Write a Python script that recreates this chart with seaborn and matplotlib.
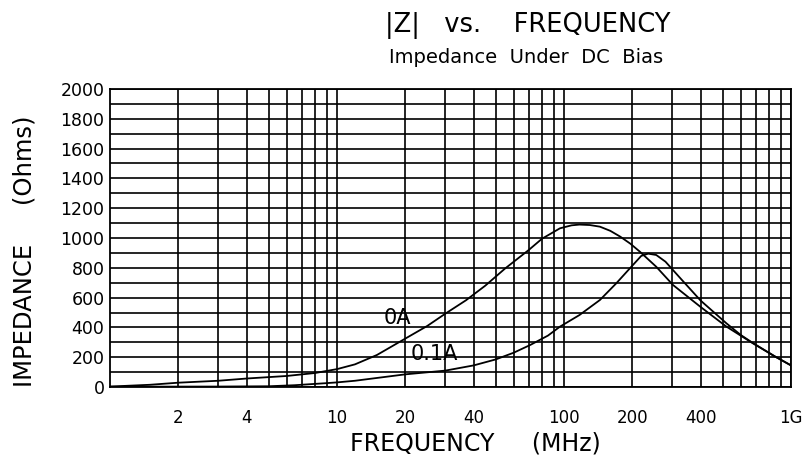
import numpy as np
import pandas as pd
import seaborn as sns
import matplotlib
matplotlib.use('Agg')
import matplotlib.pyplot as plt
from matplotlib.ticker import FixedLocator, MultipleLocator, NullFormatter

# Values (frequency in MHz, impedance in Ohms)
freq_0a = [1.0, 1.5, 2.0, 3.0, 4.0, 6.0, 8.0, 10, 12, 15, 20, 25, 30, 37, 45, 55,
           70, 80, 96, 108, 117, 130, 144, 160, 177, 196, 216, 255, 302, 400, 520,
           680, 850, 1000]
z_0a = [3, 15, 29, 42, 57, 74, 94, 120, 152, 215, 325, 410, 492, 582, 680, 795,
        920, 995, 1065, 1085, 1090, 1087, 1076, 1048, 1009, 962, 908, 807, 685, 537,
        405, 293, 205, 145]

freq_01a = [1.0, 3.0, 5.0, 6.5, 8.8, 10, 12, 20, 30, 40, 50, 60, 71, 85, 96, 117,
            144, 170, 195, 219, 235, 255, 280, 326, 400, 520, 600, 680, 850, 1000]
z_01a = [2, 3, 5, 12, 25, 31, 42, 85, 110, 145, 185, 230, 282, 345, 405, 483,
         584, 696, 796, 880, 895, 886, 841, 729, 580, 427, 350, 295, 205, 145]

x_ticks = [2, 4, 10, 20, 40, 100, 200, 400, 1000]
x_labels = ['2', '4', '10', '20', '40', '100', '200', '400', '1G']

df_0a = pd.DataFrame({'freq': freq_0a, 'z': z_0a})
df_01a = pd.DataFrame({'freq': freq_01a, 'z': z_01a})

sns.set_style('white')
plt.rcParams['font.family'] = ['DejaVu Sans']
plt.rcParams.update({'text.color': 'black', 'axes.labelcolor': 'black',
                     'xtick.color': 'black', 'ytick.color': 'black'})

fig = plt.figure(figsize=(8.04, 4.58), dpi=100)
ax = fig.add_axes([0.1368, 0.155, 0.847, 0.6507])

sns.lineplot(data=df_0a, x='freq', y='z', color='black', linewidth=1.3, ax=ax)
sns.lineplot(data=df_01a, x='freq', y='z', color='black', linewidth=1.3, ax=ax)

ax.set_xscale('log')
ax.set_xlim(1, 1000)
ax.set_ylim(0, 2000)

# grid: every 100 Ohms, every 1..9 step per decade
ax.yaxis.set_major_locator(MultipleLocator(200))
ax.yaxis.set_minor_locator(MultipleLocator(100))
ax.xaxis.set_major_locator(FixedLocator(x_ticks))
minor_x = [m * 10 ** d for d in range(3) for m in range(2, 10)] + [10, 100]
minor_x = [v for v in minor_x if v not in x_ticks]
ax.xaxis.set_minor_locator(FixedLocator(minor_x))
ax.xaxis.set_minor_formatter(NullFormatter())
ax.set_xticklabels(x_labels)

ax.grid(which='both', color='black', linewidth=1.2)
ax.set_axisbelow(True)
ax.tick_params(which='both', length=0)
ax.tick_params(axis='x', pad=16, labelsize=12)
ax.tick_params(axis='y', pad=4, labelsize=12.5)
for s in ax.spines.values():
    s.set_color('black')
    s.set_linewidth(1.3)

ax.set_xlabel('FREQUENCY     (MHz)', fontsize=17)
ax.xaxis.set_label_coords(0.537, -0.148)
ax.set_ylabel('IMPEDANCE     (Ohms)', fontsize=17.5)
ax.yaxis.set_label_coords(-0.108, 0.456)

ax.text(18.4, 463, '0A', fontsize=15, ha='center', va='center')
ax.text(21.0, 221, '0.1A', fontsize=15, ha='left', va='center')

fig.text(0.656, 0.945, '|Z|   vs.    FREQUENCY', fontsize=18.5, ha='center', va='center')
fig.text(0.654, 0.875, 'Impedance  Under  DC  Bias', fontsize=14, ha='center', va='center')

fig.savefig('out.png', dpi=100, facecolor='white')
